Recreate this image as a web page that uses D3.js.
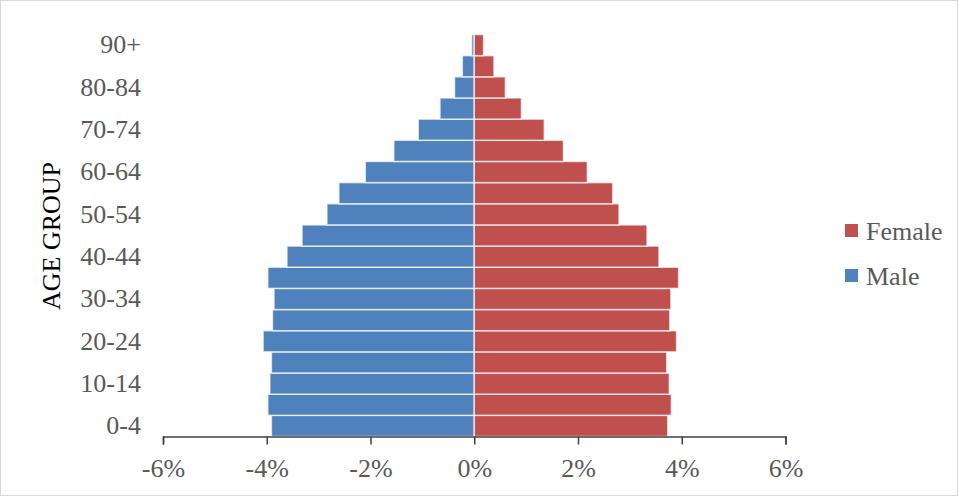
<!DOCTYPE html>
<meta charset="utf-8">
<style>
  body { margin: 0; background: #fff; }
  text { font-family: "Liberation Serif", "Times New Roman", serif; }
</style>
<svg width="958" height="496"></svg>
<script src="https://cdn.jsdelivr.net/npm/d3@7"></script>
<script>
    // age groups, bottom to top
    var ageGroups = ["0-4", "5-9", "10-14", "15-19", "20-24", "25-29", "30-34", "35-39", "40-44",
        "45-49", "50-54", "55-59", "60-64", "65-69", "70-74", "75-79", "80-84", "85-89", "90+"];
    // percent of population
    var male = [3.91, 3.98, 3.94, 3.91, 4.07, 3.89, 3.86, 3.98, 3.61,
        3.32, 2.84, 2.61, 2.10, 1.55, 1.08, 0.66, 0.38, 0.23, 0.05];
    var female = [3.73, 3.80, 3.76, 3.71, 3.90, 3.77, 3.79, 3.94, 3.56,
        3.33, 2.79, 2.67, 2.18, 1.72, 1.35, 0.91, 0.60, 0.38, 0.18];
    var xTicks = [-6, -4, -2, 0, 2, 4, 6];
    var shownLabels = ["0-4", "10-14", "20-24", "30-34", "40-44", "50-54", "60-64", "70-74", "80-84", "90+"];

    var svg = d3.select("svg"),
        width = +svg.attr("width"),
        height = +svg.attr("height");

    svg.append("rect")
        .attr("x", 0.5).attr("y", 0.5)
        .attr("width", width - 1).attr("height", height - 1)
        .attr("fill", "none").attr("stroke", "#d9d9d9");

    var x = d3.scaleLinear().domain([-6, 6]).range([163, 785.5]);
    var y = d3.scaleBand().domain(ageGroups).range([436.5, 34.5]).padding(0);

    var blue = "#4f81bd", red = "#c0504d";

    svg.append("g").selectAll("rect")
        .data(male)
        .join("rect")
        .attr("x", d => x(-d))
        .attr("y", (d, i) => y(ageGroups[i]))
        .attr("width", d => x(0) - x(-d))
        .attr("height", y.bandwidth())
        .attr("fill", blue)
        .attr("stroke", "#fff").attr("stroke-opacity", 0.7).attr("stroke-width", 1.5);

    svg.append("g").selectAll("rect")
        .data(female)
        .join("rect")
        .attr("x", x(0))
        .attr("y", (d, i) => y(ageGroups[i]))
        .attr("width", d => x(d) - x(0))
        .attr("height", y.bandwidth())
        .attr("fill", red)
        .attr("stroke", "#fff").attr("stroke-opacity", 0.7).attr("stroke-width", 1.5);

    // x axis
    var xAxis = svg.append("g")
        .attr("transform", "translate(0,436.5)")
        .call(d3.axisBottom(x).tickValues(xTicks).tickSize(8).tickPadding(14)
            .tickFormat(d => d + "%"));
    xAxis.select(".domain").attr("stroke", "#404040").attr("stroke-width", 1.5);
    xAxis.selectAll(".tick line").attr("stroke", "#404040").attr("stroke-width", 1.5);
    xAxis.selectAll("text")
        .attr("fill", "#595959")
        .style("font-family", "'Liberation Serif', serif")
        .style("font-size", "26px");

    // y axis labels
    var yAxis = svg.append("g")
        .attr("transform", "translate(151,0)")
        .call(d3.axisLeft(y).tickValues(shownLabels).tickSize(0).tickPadding(10));
    yAxis.select(".domain").remove();
    yAxis.selectAll("text")
        .attr("fill", "#595959")
        .style("font-family", "'Liberation Serif', serif")
        .style("font-size", "26px");

    svg.append("text")
        .attr("transform", "translate(60,236) rotate(-90)")
        .attr("text-anchor", "middle")
        .attr("fill", "#000")
        .style("font-size", "26px")
        .text("AGE GROUP");

    // legend
    var legend = [{name: "Female", color: red}, {name: "Male", color: blue}];
    var lg = svg.append("g").selectAll("g")
        .data(legend)
        .join("g")
        .attr("transform", (d, i) => "translate(845," + (224 + i * 45) + ")");
    lg.append("rect").attr("width", 13).attr("height", 13).attr("fill", d => d.color);
    lg.append("text")
        .attr("x", 21).attr("y", 7).attr("dy", "0.35em")
        .attr("fill", "#595959")
        .style("font-size", "26px")
        .text(d => d.name);
</script>
